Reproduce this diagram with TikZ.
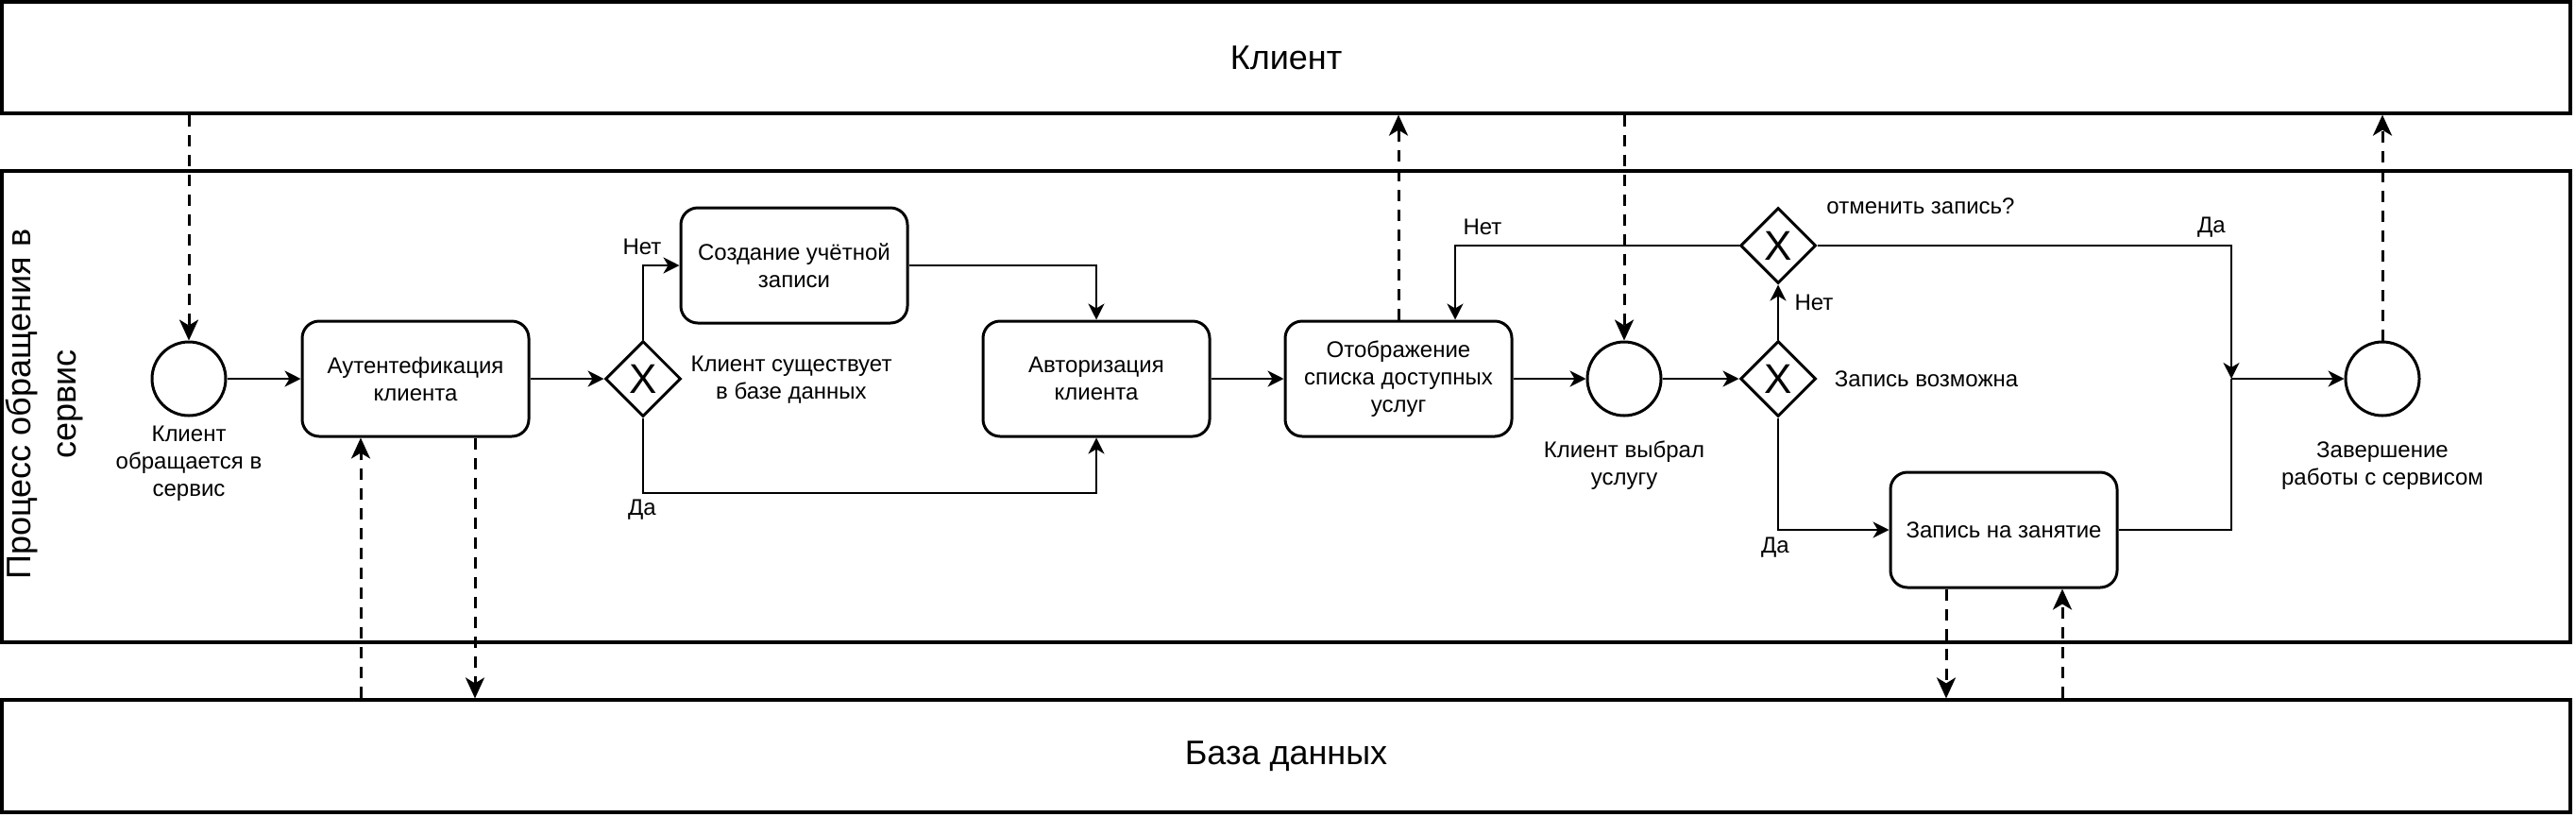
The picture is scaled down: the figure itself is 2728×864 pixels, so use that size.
\documentclass[tikz,border=0pt]{standalone}
\usepackage{fontspec}
\setmainfont{Liberation Sans}
\usetikzlibrary{shapes.geometric,arrows.meta,calc}

\begin{document}
\begin{tikzpicture}[x=0.5pt,y=-0.5pt]
\tikzset{pool/.style = {draw, line width=1.6pt, minimum width=1360pt, font=\fontsize{18}{21.6}\selectfont}}
\tikzset{task/.style = {draw, rounded corners=9pt, line width=1.5pt, minimum width=120pt, minimum height=61pt, align=center, font=\fontsize{12}{14.5}\selectfont}}
\tikzset{event/.style = {draw, circle, line width=1.5pt, minimum size=39pt, inner sep=0pt}}
\tikzset{gate/.style = {draw, diamond, line width=1.5pt, minimum size=40pt, inner sep=0pt, font=\fontsize{22}{22}\selectfont}}
\tikzset{lbl/.style = {align=center, inner sep=0pt, font=\fontsize{12}{14.5}\selectfont}}
\tikzset{flow/.style = {-{Stealth[length=8.5pt,width=8.5pt,inset=2.5pt]}, line width=1pt}}
\tikzset{msg/.style = {-{Stealth[length=11pt,width=10pt,inset=3pt]}, line width=1.5pt, dash pattern=on 6pt off 4.5pt}}
\useasboundingbox (0,0) rectangle (2728,864);
% pools
\node[pool, minimum height=59pt] (client) at (1362,61) {Клиент};
\node[pool, minimum height=249.5pt] (proc) at (1362,430.5) {};
\node[pool, minimum height=59.5pt] (db) at (1362,800.5) {База данных};
\node[lbl, rotate=90, font=\fontsize{18}{24}\selectfont] (proclbl) at (47,428) {Процесс обращения в\\сервис};
% events, tasks, gateways
\node[event] (start) at (200,401) {};
\node[task] (auth) at (440,401) {Аутентефикация\\клиента};
\node[gate] (gw1) at (681,401) {X};
\node[task] (create) at (841,281) {Создание учётной\\записи};
\node[task] (authz) at (1161,401) {Авторизация\\клиента};
\node[task] (show) at (1481,401) {Отображение\\списка доступных\\услуг};
\node[event] (chosen) at (1720,401) {};
\node[gate] (gw2) at (1883,401) {X};
\node[gate] (gw3) at (1883,260) {X};
\node[task] (book) at (2122,561) {Запись на занятие};
\node[event] (finish) at (2523,401) {};
\coordinate (join) at (2363,401);
% labels
\node[lbl] (lstart) at (200,491) {Клиент\\обращается в\\сервис};
\node[lbl] (lexists) at (838,402) {Клиент существует\\в базе данных};
\node[lbl] (lno1) at (680,261) {Нет};
\node[lbl] (lyes1) at (680,540) {Да};
\node[lbl] (lno2) at (1570,240) {Нет};
\node[lbl] (lcancel) at (2034,218) {отменить запись?};
\node[lbl] (lyes2) at (2342,241) {Да};
\node[lbl] (lno3) at (1921,320) {Нет};
\node[lbl] (lpossible) at (2040,401) {Запись возможна};
\node[lbl] (lyes3) at (1880,580) {Да};
\node[lbl] (lchosen) at (1720,493) {Клиент выбрал\\услугу};
\node[lbl] (lfinish) at (2523,493) {Завершение\\работы с сервисом};
% sequence flows
\draw[flow] (start) -- (auth);
\draw[flow] (auth) -- (gw1);
\draw[flow] (gw1.north) |- (create.west);
\draw[flow] (create.east) -| (authz.north);
\draw[flow] (gw1.south) -- ++(0,79) -| (authz.south);
\draw[flow] (authz) -- (show);
\draw[flow] (show) -- (chosen);
\draw[flow] (chosen) -- (gw2);
\draw[flow] (gw2) -- (gw3);
\coordinate (showin) at ($(show.north)+(60,0)$);
\draw[flow] (gw3.west) -| (showin);
\draw[flow] (gw2.south) |- (book.west);
\draw[flow] (gw3.east) -| (join);
\draw[line width=1pt] (book.east) -| (join);
\draw[flow] (join) -- (finish);
% message flows
\coordinate (authin) at ($(auth.south)+(-58,0)$);
\coordinate (authout) at ($(auth.south)+(63,0)$);
\coordinate (bookout) at ($(book.south)+(-61,0)$);
\coordinate (bookin) at ($(book.south)+(62,0)$);
\draw[msg] (start.north |- client.south) -- (start.north);
\draw[msg] (authin |- db.north) -- (authin);
\draw[msg] (authout) -- (authout |- db.north);
\draw[msg] (show.north) -- (show.north |- client.south);
\draw[msg] (chosen.north |- client.south) -- (chosen.north);
\draw[msg] (finish.north) -- (finish.north |- client.south);
\draw[msg] (bookout) -- (bookout |- db.north);
\draw[msg] (bookin |- db.north) -- (bookin);
\end{tikzpicture}
\end{document}
